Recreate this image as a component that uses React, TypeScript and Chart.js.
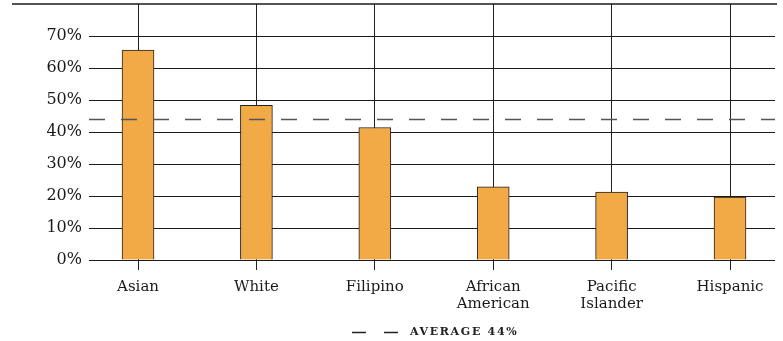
import { useEffect, useRef } from "react";
import { Chart, registerables } from "chart.js";

Chart.register(...registerables);

const CATEGORIES: (string | string[])[] = [
  "Asian",
  "White",
  "Filipino",
  ["African", "American"],
  ["Pacific", "Islander"],
  "Hispanic",
];
const VALUES = [65.6, 48.3, 41.4, 22.9, 21.2, 19.7];
const AVERAGE = 44;
const Y_TICKS = [0, 10, 20, 30, 40, 50, 60, 70, 80];
const LEGEND_LABEL = `AVERAGE ${AVERAGE}%`;

const SERIF = "'DejaVu Serif', serif";

const overlayPlugin = {
  id: "overlay",
  beforeDatasetsDraw(chart: any) {
    const { ctx, chartArea, scales } = chart;
    const yTop = Math.round(scales.y.getPixelForValue(Y_TICKS[Y_TICKS.length - 1]));
    ctx.save();
    ctx.strokeStyle = "#1a1a1a";
    ctx.lineWidth = 1.5;
    ctx.beginPath();
    ctx.moveTo(12, yTop);
    ctx.lineTo(chartArea.right + 2, yTop);
    ctx.stroke();
    ctx.restore();
  },
  afterDatasetsDraw(chart: any) {
    const { ctx, chartArea, scales } = chart;
    const y = Math.round(scales.y.getPixelForValue(AVERAGE)) + 0.5;
    ctx.save();
    ctx.strokeStyle = "#555";
    ctx.lineWidth = 1.3;
    ctx.setLineDash([16, 16]);
    ctx.beginPath();
    ctx.moveTo(chartArea.left, y);
    ctx.lineTo(chartArea.right, y);
    ctx.stroke();
    ctx.restore();
  },
  afterDraw(chart: any) {
    const { ctx, height } = chart;
    ctx.save();
    ctx.font = `bold 11px ${SERIF}`;
    (ctx as any).letterSpacing = "1.7px";
    const symW = 48;
    const gap = 10;
    const x0 = 352;
    const y = height - 9;
    ctx.strokeStyle = "#222";
    ctx.lineWidth = 1.3;
    ctx.setLineDash([14, 18]);
    ctx.beginPath();
    ctx.moveTo(x0, y + 0.5);
    ctx.lineTo(x0 + symW, y + 0.5);
    ctx.stroke();
    ctx.setLineDash([]);
    ctx.fillStyle = "#222";
    ctx.textBaseline = "middle";
    ctx.textAlign = "left";
    ctx.fillText(LEGEND_LABEL, x0 + symW + gap, y);
    ctx.restore();
  },
};

export default function App() {
  const ref = useRef<HTMLCanvasElement>(null);

  useEffect(() => {
    if (!ref.current) return;
    const chart = new Chart(ref.current, {
      type: "bar",
      data: {
        datasets: [
          {
            label: LEGEND_LABEL,
            data: VALUES.map((v, i) => ({ x: i, y: v })),
            backgroundColor: "#F2AA46",
            borderColor: "#222",
            borderWidth: 1,
            barThickness: 32,
          },
        ],
      },
      options: {
        animation: false,
        responsive: false,
        devicePixelRatio: 1,
        layout: { padding: { top: 4, right: 8, bottom: 30, left: 0 } },
        plugins: {
          legend: { display: false },
          tooltip: { enabled: false },
        },
        scales: {
          x: {
            type: "linear",
            offset: false,
            min: -0.414,
            max: 5.38,
            afterBuildTicks: (scale: any) => {
              scale.ticks = CATEGORIES.map((_, i) => ({ value: i }));
            },
            afterFit: (scale: any) => {
              scale.height = 51;
              scale.paddingLeft = 0;
              scale.paddingRight = 0;
            },
            ticks: {
              includeBounds: false,
              autoSkip: false,
              maxRotation: 0,
              padding: 8,
              color: "#1a1a1a",
              font: { family: SERIF, size: 15, lineHeight: 1.15 },
              callback: (v: any) => CATEGORIES[Math.round(Number(v))] as any,
            },
            grid: {
              offset: false,
              color: "#222",
              lineWidth: 1,
              tickLength: 10,
              drawTicks: true,
            },
            border: { display: false },
          },
          y: {
            min: 0,
            max: Y_TICKS[Y_TICKS.length - 1],
            afterBuildTicks: (scale: any) => {
              scale.ticks = Y_TICKS.map((v) => ({ value: v }));
            },
            afterFit: (scale: any) => {
              scale.width = 89;
              scale.paddingTop = 0;
              scale.paddingBottom = 0;
            },
            ticks: {
              padding: 7,
              color: "#1a1a1a",
              font: { family: SERIF, size: 16 },
              callback: (v: any) =>
                Number(v) === Y_TICKS[Y_TICKS.length - 1] ? "" : `${v}%`,
            },
            grid: {
              color: (c: any) =>
                c.tick && c.tick.value === Y_TICKS[Y_TICKS.length - 1]
                  ? "rgba(0,0,0,0)"
                  : "#1a1a1a",
              lineWidth: 1,
              drawTicks: false,
            },
            border: { display: false },
          },
        },
      },
      plugins: [overlayPlugin],
    });
    return () => chart.destroy();
  }, []);

  return (
    <div style={{ position: "absolute", left: 0, top: 0, width: 783, height: 341 }}>
      <canvas ref={ref} width={783} height={341} style={{ width: 783, height: 341 }} />
    </div>
  );
}
